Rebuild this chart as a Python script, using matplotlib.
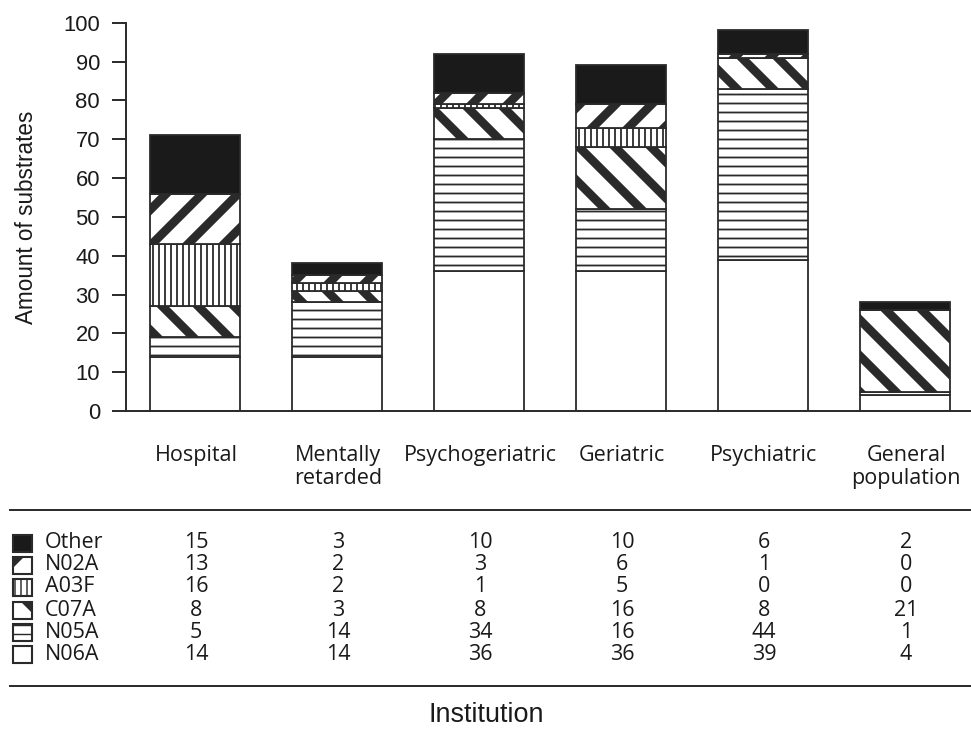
import matplotlib
matplotlib.use("Agg")
import matplotlib.pyplot as plt
import numpy as np
from matplotlib.patches import Rectangle
from matplotlib.lines import Line2D

# data (table rows)
institutions = ["Hospital", "Mentally\nretarded", "Psychogeriatric", "Geriatric",
                "Psychiatric", "General\npopulation"]
other = [15, 3, 10, 10, 6, 2]
n02a = [13, 2, 3, 6, 1, 0]
a03f = [16, 2, 1, 5, 0, 0]
c07a = [8, 3, 8, 16, 8, 21]
n05a = [5, 14, 34, 16, 44, 1]
n06a = [14, 14, 36, 36, 39, 4]

# stacking order, bottom first
groups = ["N06A", "N05A", "C07A", "A03F", "N02A", "Other"]
values = {"N06A": n06a, "N05A": n05a, "C07A": c07a,
          "A03F": a03f, "N02A": n02a, "Other": other}
styles = {
    "N06A": dict(fc="white", hatch=None, hlw=1.0),
    "N05A": dict(fc="white", hatch="--", hlw=1.2),
    "C07A": dict(fc="white", hatch="\\", hlw=5.8),
    "A03F": dict(fc="white", hatch="|||", hlw=1.2),
    "N02A": dict(fc="white", hatch="/", hlw=5.8),
    "Other": dict(fc="#1a1a1a", hatch=None, hlw=1.0),
}
edge = "#2a2a2a"

DPI = 108
W, H = 971, 750
fig = plt.figure(figsize=(W / DPI, H / DPI), dpi=DPI)

def fx(px):
    return px / W

def fy(py):
    return 1 - py / H

ax_left, ax_bottom, ax_top = 126, 411, 22.7
ax = fig.add_axes([fx(ax_left), fy(ax_bottom), 1 - fx(ax_left), (ax_bottom - ax_top) / H])

x = np.arange(len(institutions))
bottom = np.zeros(len(institutions))
for g in groups:
    st = styles[g]
    with plt.rc_context({"hatch.linewidth": st["hlw"], "hatch.color": edge}):
        bars = ax.bar(x, values[g], bottom=bottom, width=0.634, color=st["fc"],
                      edgecolor=edge, linewidth=1.2, hatch=st["hatch"], zorder=2)
    for b in bars:
        if hasattr(b, "set_hatch_linewidth"):
            b.set_hatch_linewidth(st["hlw"])
    bottom += np.array(values[g])

ax.set_xlim(-0.486, 5.465)
ax.set_ylim(0, 100)
ax.set_yticks(np.arange(0, 101, 10))
ax.set_xticks([])
for s in ["top", "right"]:
    ax.spines[s].set_visible(False)
for s in ["left", "bottom"]:
    ax.spines[s].set_color(edge)
    ax.spines[s].set_linewidth(1.3)
pt = 72 / DPI
ax.tick_params(axis="y", length=14 * pt, width=1.3, color=edge, labelsize=22 * pt,
               pad=8, labelcolor="#1a1a1a")
for lab in ax.get_yticklabels():
    lab.set_fontfamily("Liberation Sans")
ax.set_ylabel("Amount of substrates", fontsize=22.5 * pt, family="Liberation Sans",
              color="#1a1a1a")
ax.yaxis.set_label_coords(-(126 - 38) / (W - 126), 0.5)

# table below the chart
col_px = [196, 338, 480, 622, 764, 906]
tfont = dict(family="Open Sans", fontsize=21.5 * pt, color="#1a1a1a")
for cx, name in zip(col_px, institutions):
    fig.text(fx(cx), fy(445), name, ha="center", va="top", linespacing=1.12, **tfont)

fig.add_artist(Line2D([fx(10), 1], [fy(510), fy(510)], transform=fig.transFigure,
                      color=edge, lw=1.3))
fig.add_artist(Line2D([fx(10), 1], [fy(686), fy(686)], transform=fig.transFigure,
                      color=edge, lw=1.3))

rows = ["Other", "N02A", "A03F", "C07A", "N05A", "N06A"]
row_px = [543, 565, 587, 610, 632, 654]
for name, ry in zip(rows, row_px):
    st = styles[name]
    with plt.rc_context({"hatch.linewidth": st["hlw"] * 0.8, "hatch.color": edge}):
        sq = Rectangle((fx(13), fy(ry + 8.5)), fx(19), 17 / H, transform=fig.transFigure,
                       facecolor=st["fc"], edgecolor=edge, lw=1.4, hatch=st["hatch"])
    if hasattr(sq, "set_hatch_linewidth"):
        sq.set_hatch_linewidth(st["hlw"] * 0.8)
    fig.add_artist(sq)
    fig.text(fx(45), fy(ry), name, ha="left", va="center", **tfont)
    for cx, v in zip(col_px, values[name]):
        fig.text(fx(cx), fy(ry), str(v), ha="center", va="center", **tfont)

fig.text(fx(486), fy(715), "Institution", ha="center", va="center", fontsize=27 * pt,
         family="Liberation Sans", color="#1a1a1a")

fig.savefig("out.png", dpi=DPI)
